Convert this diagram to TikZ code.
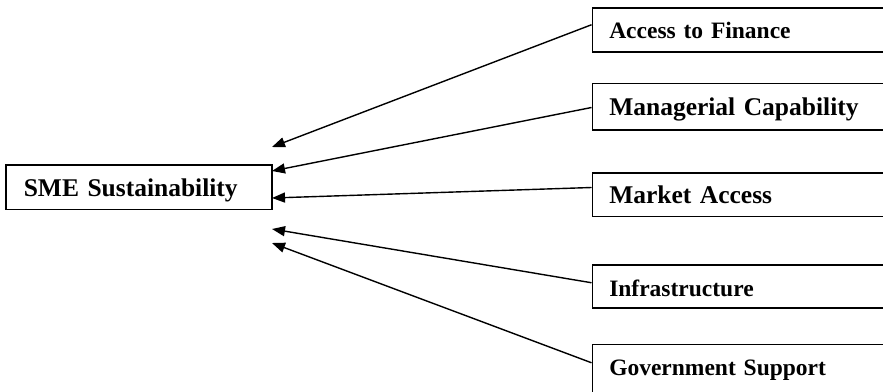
\documentclass[tikz,border=0pt]{standalone}
\usepackage{fontspec}
\setmainfont{Liberation Serif}
\usetikzlibrary{arrows.meta}

\begin{document}
\begin{tikzpicture}[x=1pt, y=-1pt]

\tikzset{box/.style = {draw, line width=1.5pt, anchor=north west, inner xsep=17pt, inner ysep=0pt, text width=300pt, align=left}}
\tikzset{big/.style = {font=\fontsize{25.5}{30}\selectfont\bfseries}}
\tikzset{small/.style = {font=\fontsize{23.5}{28}\selectfont\bfseries}}
\tikzset{link/.style = {-{Triangle[length=13pt,width=10pt]}, line width=1.4pt}}
\useasboundingbox (0,0) rectangle (883,391);
%boxes
\node[box, big, inner xsep=18pt, text width=230pt, text height=31.5pt, text depth=13pt] (sme) at (5,164) {SME Sustainability};
\node[box, small, text height=30.5pt, text depth=13.5pt] (fin) at (591.5,7) {Access to Finance};
\node[box, big, text height=32pt, text depth=14.5pt] (man) at (591.5,82.5) {Managerial Capability};
\node[box, big, text height=31pt, text depth=12.5pt] (mkt) at (591.5,172) {Market Access};
\node[box, small, text height=32pt, text depth=11pt] (inf) at (591.5,264) {Infrastructure};
\node[box, small, text height=31pt, text depth=30pt] (gov) at (591.5,343.5) {Government Support};
%arrow tips
\coordinate (in1) at (272,147);
\coordinate (in2) at (272,171);
\coordinate (in3) at (272,198);
\coordinate (in4) at (272,229);
\coordinate (in5) at (272,243);
%arrows
\draw [link] ([yshift=5pt]fin.west) -- (in1);
\draw [link] ([yshift=-1pt]man.west) -- (in2);
\draw [link] ([yshift=7pt]mkt.west) -- (in3);
\draw [link] ([yshift=3.5pt]inf.west) -- (in4);
\draw [link] ([yshift=12pt]gov.west) -- (in5);

\end{tikzpicture}
\end{document}
